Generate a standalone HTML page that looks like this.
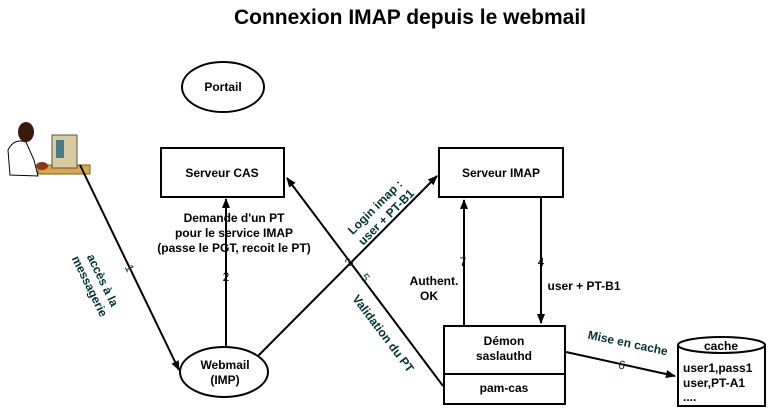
<!DOCTYPE html>
<html><head><meta charset="utf-8"><style>
body{margin:0;background:#fff;}
svg{display:block;font-family:"Liberation Sans",sans-serif;font-weight:bold;}
</style></head><body>
<svg width="768" height="410" viewBox="0 0 768 410" xmlns="http://www.w3.org/2000/svg">
<defs><marker id="a" markerWidth="10" markerHeight="10" refX="9" refY="5" orient="auto" markerUnits="userSpaceOnUse"><path d="M0,1 L10,5 L0,9 Z" fill="#000"/></marker></defs>
<text x="410" y="24" font-size="21" text-anchor="middle" fill="#000">Connexion IMAP depuis le webmail</text>
<ellipse cx="223" cy="87" rx="41" ry="25" fill="none" stroke="#000" stroke-width="2"/>
<text x="223" y="91" font-size="12" text-anchor="middle">Portail</text>
<g>
<rect x="38" y="165" width="52" height="9" fill="#d9a84a" stroke="#7a5a20"/>
<path d="M10,175 L8,150 Q14,138 26,142 L34,160 L38,176 Z" fill="#fff" stroke="#000"/>
<ellipse cx="26" cy="132" rx="8" ry="10" fill="#3a1a0a"/>
<rect x="52" y="135" width="25" height="33" fill="#d8cba0" stroke="#555"/>
<rect x="56" y="140" width="8" height="18" fill="#4a7a8a"/>
<ellipse cx="42" cy="166" rx="6" ry="4" fill="#8a3a1a"/>
</g>
<rect x="161" y="148" width="123" height="49" fill="#fff" stroke="#000" stroke-width="2"/>
<text x="222" y="177" font-size="12" text-anchor="middle">Serveur CAS</text>
<rect x="439" y="148" width="124" height="49" fill="#fff" stroke="#000" stroke-width="2"/>
<text x="501" y="177" font-size="12" text-anchor="middle">Serveur IMAP</text>
<rect x="444" y="326" width="121" height="78" fill="#fff" stroke="#000" stroke-width="2"/>
<line x1="444" y1="374" x2="565" y2="374" stroke="#000" stroke-width="2"/>
<text x="504" y="345" font-size="12" text-anchor="middle">Démon</text>
<text x="504" y="360" font-size="12" text-anchor="middle">saslauthd</text>
<text x="504" y="392" font-size="12" text-anchor="middle">pam-cas</text>
<path d="M678,345 L678,406 L765,406 L765,345" fill="#fff" stroke="#000" stroke-width="2"/>
<ellipse cx="721.5" cy="345" rx="43.5" ry="8" fill="#fff" stroke="#000" stroke-width="2"/>
<text x="721" y="350" font-size="12" text-anchor="middle">cache</text>
<text x="683" y="372" font-size="12">user1,pass1</text>
<text x="683" y="387" font-size="12">user,PT-A1</text>
<text x="683" y="401" font-size="12">....</text>
<ellipse cx="224" cy="372" rx="44" ry="25" fill="#fff" stroke="#000" stroke-width="2"/>
<text x="225" y="369" font-size="12" text-anchor="middle">Webmail</text>
<text x="225" y="384" font-size="12" text-anchor="middle">(IMP)</text>
<g stroke="#000" stroke-width="2" fill="none">
<line x1="80" y1="165" x2="179" y2="370" marker-end="url(#a)"/>
<line x1="226" y1="347" x2="226" y2="199" marker-end="url(#a)"/>
<line x1="258" y1="356" x2="437" y2="176" marker-end="url(#a)"/>
<line x1="443" y1="386" x2="287" y2="178" marker-end="url(#a)"/>
<line x1="464" y1="326" x2="464" y2="200" marker-end="url(#a)"/>
<line x1="541" y1="198" x2="541" y2="323" marker-end="url(#a)"/>
<line x1="566" y1="352" x2="675" y2="376" marker-end="url(#a)"/>
</g>
<g font-size="12" text-anchor="middle">
<text x="234" y="222">Demande d'un PT</text>
<text x="234" y="237">pour le service IMAP</text>
<text x="234" y="252">(passe le PGT, recoit le PT)</text>
<text x="226" y="281" font-weight="normal" font-size="12">2</text>
<text x="463" y="266" font-weight="normal" font-size="12">7</text>
<text x="541" y="266" font-weight="normal" font-size="12">4</text>
<text x="434" y="285">Authent.</text>
<text x="429" y="300">OK</text>
<text x="584" y="290">user + PT-B1</text>
</g>
<g font-size="12" text-anchor="middle" fill="#003333">
<text transform="translate(99,282) rotate(64)">accès à la</text>
<text transform="translate(86,288) rotate(64)">messagerie</text>
<text transform="translate(126,270) rotate(64)" font-weight="normal">1</text>
<text transform="translate(378,210) rotate(-45)">Login imap :</text>
<text transform="translate(389,220) rotate(-45)">user + PT-B1</text>
<text transform="translate(352,265) rotate(-45)" font-weight="normal">3</text>
<text transform="translate(362,280) rotate(53)" font-weight="normal">5</text>
<text transform="translate(380,336) rotate(53)">Validation du PT</text>
<text transform="translate(627,347) rotate(12)">Mise en cache</text>
<text transform="translate(621,369) rotate(12)" font-weight="normal">6</text>
</g>
</svg>
</body></html>
